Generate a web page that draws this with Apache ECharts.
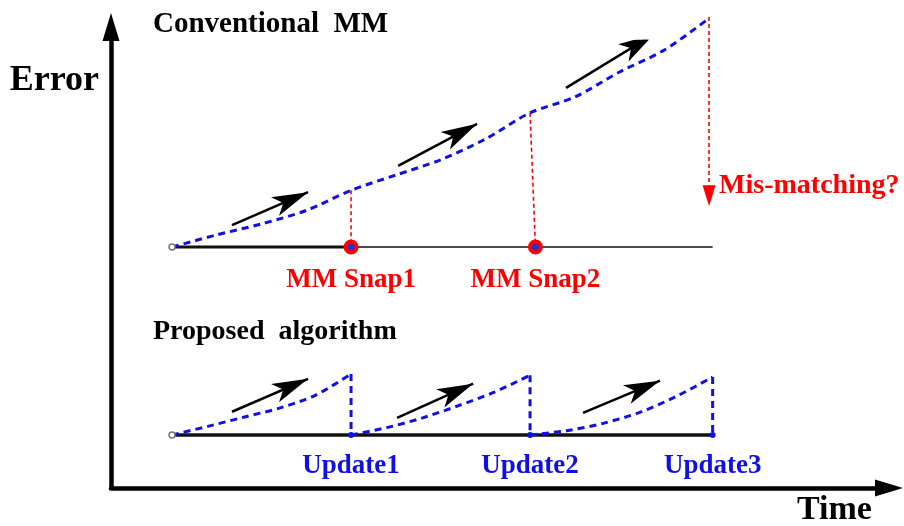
<!DOCTYPE html>
<html>
<head>
<meta charset="utf-8">
<script src="https://cdn.jsdelivr.net/npm/echarts@6/dist/echarts.min.js"></script>
<style>
  html, body { margin: 0; padding: 0; background: #fff; }
  #chart { width: 904px; height: 526px; }
</style>
</head>
<body>
<div id="chart"></div>
<script>
// time in update intervals, error in "one interval of drift" units
const updateTimes = [1, 2, 3.02]
const updateLabels = ['Update1', 'Update2', 'Update3']
const segShape = [0, 0.2, 0.4, 0.6, 0.8, 1]
const proposedErr = [
  [0, 0.14, 0.29, 0.44, 0.65, 1.0],
  [0, 0.12, 0.28, 0.48, 0.7, 0.98],
  [0, 0.07, 0.19, 0.37, 0.63, 0.95],
]
const convTime = [0, 0.25, 0.5, 0.75, 1, 1.25, 1.5, 1.75, 2, 2.25, 2.5, 2.75, 3]
const convErr = [0, 0.2, 0.38, 0.6, 0.93, 1.18, 1.43, 1.77, 2.2, 2.46, 2.87, 3.23, 3.75]
const snapFrom = [1, 2]
const snapTimes = [1, 2.03]
const snapLabels = ['MM Snap1', 'MM Snap2']
// [t0, e0, t1, e1] relative to each panel's baseline
const convArrows = [[0.335, 0.36, 0.76, 0.9], [1.263, 1.33, 1.704, 2.02], [2.201, 2.61, 2.693, 3.49]]
const propArrows = [[0.335, 0.38, 0.76, 0.92], [1.257, 0.28, 1.682, 0.84], [2.296, 0.36, 2.726, 0.89]]
const mismatch = { t: 3, from: 3.77, to: 0.84 }
const convBase = 3.95
const propBase = 0.87
const convEnd = 3.02

const BLUE = '#0f0fe6'
const RED = '#ff0000'
const FONT = "'Liberation Serif', 'DejaVu Serif', serif"

const chart = echarts.init(document.getElementById('chart'))

const dashBlue = { color: BLUE, width: 3, type: [7, 5] }
const dashRed = { color: RED, width: 1.6, type: [4, 3] }

const series = []

// baselines
series.push({
  type: 'line', data: [[0, convBase], [1, convBase]], symbol: 'none',
  lineStyle: { color: '#111', width: 3 }, z: 1,
})
series.push({
  type: 'line', data: [[1, convBase], [convEnd, convBase]], symbol: 'none',
  lineStyle: { color: '#111', width: 1.6 }, z: 1,
})
series.push({
  type: 'line', data: [[0, propBase], [updateTimes[2], propBase]], symbol: 'none',
  lineStyle: { color: '#111', width: 3.5 }, z: 1,
})
series.push({
  type: 'scatter', data: [[0, convBase], [0, propBase]], symbol: 'circle', symbolSize: 6,
  itemStyle: { color: '#fff', borderColor: '#777', borderWidth: 1.5, opacity: 1 }, z: 5,
})

// conventional MM drift
series.push({
  type: 'line', smooth: 0.3, symbol: 'none', clip: false,
  data: convTime.map((t, i) => [t, convBase + convErr[i]]),
  lineStyle: dashBlue, z: 3,
})

// snap lines + circles
snapFrom.forEach((tf, i) => {
  const e = convErr[convTime.indexOf(tf)]
  series.push({
    type: 'line', symbol: 'none', data: [[tf, convBase + e], [snapTimes[i], convBase]],
    lineStyle: dashRed, z: 2,
  })
})
series.push({
  type: 'scatter', symbol: 'circle', symbolSize: 11,
  data: snapTimes.map((t, i) => ({ value: [t, convBase], name: snapLabels[i] })),
  itemStyle: { color: '#3030c0', borderColor: RED, borderWidth: 4, opacity: 1 },
  label: {
    show: true, position: 'bottom', distance: 12, formatter: '{b}',
    color: RED, fontFamily: FONT, fontWeight: 'bold', fontSize: 27,
  },
  z: 6,
})

// mis-matching arrow
series.push({
  type: 'lines', coordinateSystem: 'cartesian2d', clip: false,
  data: [{ coords: [[mismatch.t, convBase + mismatch.from], [mismatch.t, convBase + mismatch.to]] }],
  symbol: ['none', 'triangle'], symbolSize: [0, [13, 21]], symbolOffset: [0, [0, 10]],
  lineStyle: { color: RED, width: 1.6, type: [4, 3], opacity: 1 }, z: 4,
})
series.push({
  type: 'scatter', symbolSize: 0,
  data: [{ value: [mismatch.t, convBase + mismatch.to], name: 'Mis-matching?' }],
  itemStyle: { opacity: 1 },
  label: {
    show: true, position: 'right', distance: 10, offset: [0, -10], formatter: '{b}',
    color: RED, fontFamily: FONT, fontWeight: 'bold', fontSize: 28,
  },
})

// proposed algorithm sawtooth
proposedErr.forEach((errs, k) => {
  const start = k === 0 ? 0 : updateTimes[k - 1]
  const len = updateTimes[k] - start
  series.push({
    type: 'line', smooth: 0.3, symbol: 'none',
    data: segShape.map((s, i) => [start + s * len, propBase + errs[i]]),
    lineStyle: dashBlue, z: 3,
  })
  series.push({
    type: 'line', symbol: 'none',
    data: [[updateTimes[k], propBase + errs[errs.length - 1]], [updateTimes[k], propBase]],
    lineStyle: dashBlue, z: 3,
  })
})
series.push({
  type: 'scatter', symbol: 'circle', symbolSize: 6,
  data: updateTimes.map((t, i) => ({ value: [t, propBase], name: updateLabels[i] })),
  itemStyle: { color: BLUE, opacity: 1 },
  label: {
    show: true, position: 'bottom', distance: 15, formatter: '{b}',
    color: BLUE, fontFamily: FONT, fontWeight: 'bold', fontSize: 27,
  },
  z: 6,
})

// black direction arrows
const arrowData = convArrows.map((a) => ({ coords: [[a[0], convBase + a[1]], [a[2], convBase + a[3]]] }))
  .concat(propArrows.map((a) => ({ coords: [[a[0], propBase + a[1]], [a[2], propBase + a[3]]] })))
series.push({
  type: 'lines', coordinateSystem: 'cartesian2d',
  data: arrowData,
  symbol: ['none', 'arrow'], symbolSize: [0, [15, 36]], symbolOffset: [0, [0, 18]],
  lineStyle: { color: '#000', width: 2.5, opacity: 1 }, z: 4,
})

const axisCommon = {
  type: 'value',
  axisTick: { show: false },
  axisLabel: { show: false },
  splitLine: { show: false },
}

const option = {
  animation: false,
  backgroundColor: '#fff',
  title: [
    { text: 'Conventional  MM', left: 148, top: 5,
      textStyle: { fontFamily: FONT, fontWeight: 'bold', fontSize: 29, color: '#000' } },
    { text: 'Proposed  algorithm', left: 148, top: 313,
      textStyle: { fontFamily: FONT, fontWeight: 'bold', fontSize: 28, color: '#000' } },
  ],
  grid: { left: 111, right: 29, top: 41, bottom: 38, outerBoundsMode: 'none' },
  xAxis: {
    ...axisCommon,
    min: -0.341, max: 3.927,
    name: 'Time', nameLocation: 'end', nameGap: -78,
    nameTextStyle: { fontFamily: FONT, fontWeight: 'bold', fontSize: 34, color: '#000',
      align: 'left', verticalAlign: 'top', padding: [5, 0, 0, 0] },
    axisLine: { show: true, onZero: false, symbol: ['none', 'triangle'], symbolSize: [17, 28],
      symbolOffset: [0, 14], lineStyle: { color: '#000', width: 4.5 } },
  },
  yAxis: {
    ...axisCommon,
    min: 0, max: 7.328,
    name: 'Error', nameLocation: 'end', nameGap: -40,
    nameTextStyle: { fontFamily: FONT, fontWeight: 'bold', fontSize: 36, color: '#000',
      align: 'right', verticalAlign: 'middle', padding: [0, 12, 0, 0] },
    axisLine: { show: true, onZero: false, symbol: ['none', 'triangle'], symbolSize: [17, 28],
      symbolOffset: [0, 14], lineStyle: { color: '#000', width: 4.5 } },
  },
  series: series,
}

chart.setOption(option)
</script>
</body>
</html>
